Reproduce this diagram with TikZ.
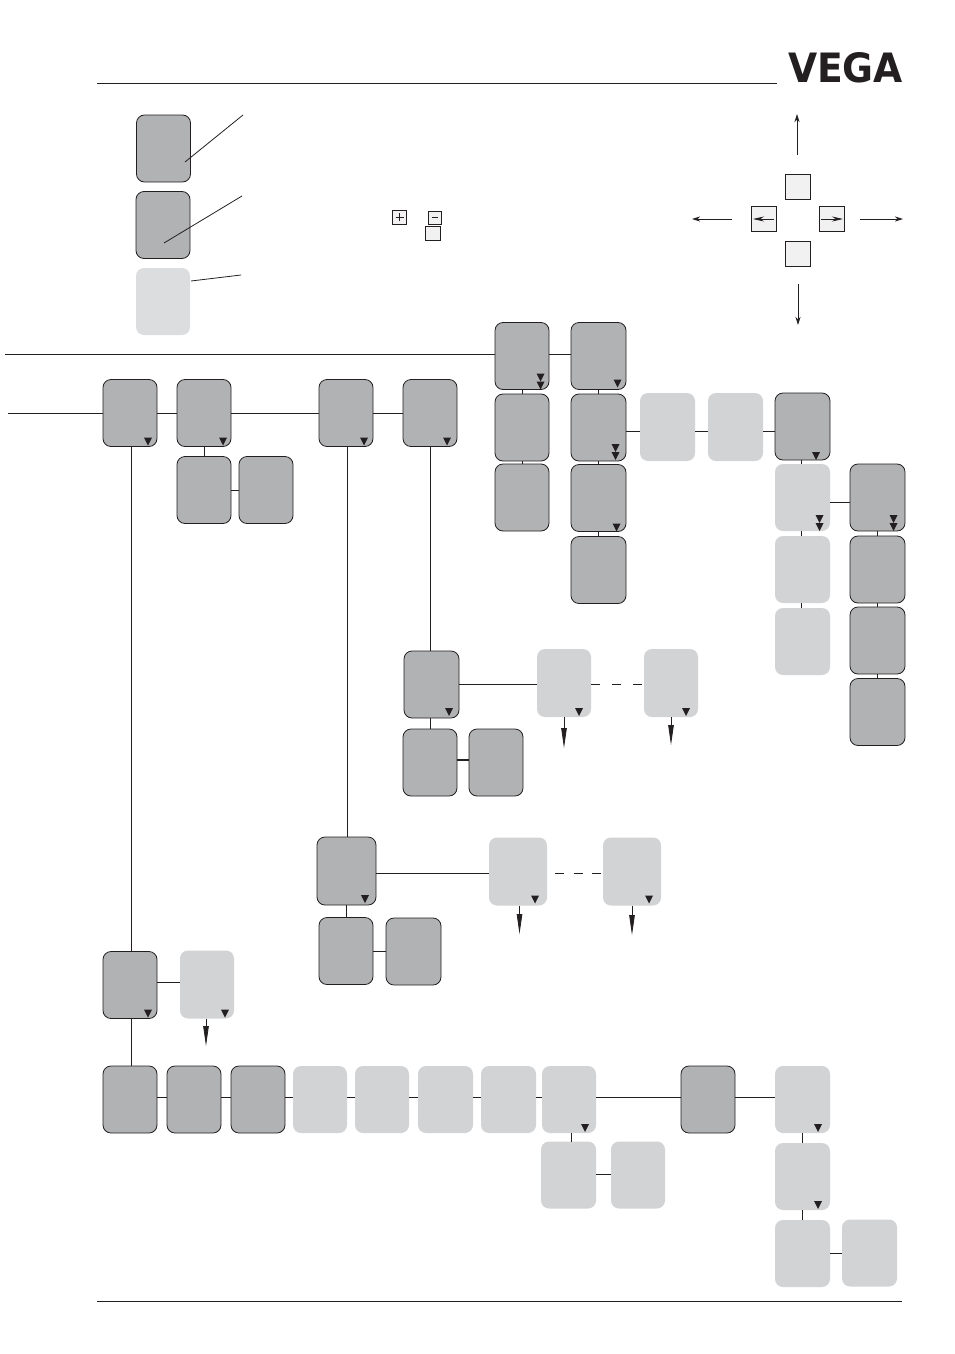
\documentclass[tikz,border=0pt]{standalone}
\usepackage{fontspec}
\usetikzlibrary{arrows.meta,positioning}
\newfontfamily\logofont{DejaVu Sans}[BoldFont={DejaVu Sans Bold}]
\definecolor{inkcol}{HTML}{231F20}
\definecolor{darkcol}{HTML}{B1B2B4}
\definecolor{lightcol}{HTML}{D1D3D5}
\definecolor{palecol}{HTML}{DCDDDF}
\definecolor{keycol}{HTML}{F1F1F2}
\tikzset{
	panel/.style={inner sep=0pt,outer sep=0pt,minimum width=54pt,minimum height=67pt,rounded corners=8pt},
	darkbox/.style={panel,draw=inkcol,line width=0.8pt,fill=darkcol},
	lightbox/.style={panel,fill=lightcol},
	keybox/.style={inner sep=0pt,outer sep=0pt,draw=inkcol,line width=0.8pt,fill=keycol},
	wire/.style={draw=inkcol,line width=0.8pt},
	navarrow/.style={wire,-{Stealth[length=8pt,width=5pt,inset=2.5pt]}},
	droparrow/.style={wire,-{Stealth[length=20pt,width=5.5pt,inset=0pt]}}
}
% one small triangle: box, shift of its middle from the corner, height of its tip
\newcommand{\tipmark}[3]{\fill[inkcol] ([xshift=#2pt-4pt,yshift=#3pt+8pt]#1.south east) -- ([xshift=#2pt+4pt,yshift=#3pt+8pt]#1.south east) -- ([xshift=#2pt,yshift=#3pt]#1.south east) -- cycle;}
\newcommand{\tiptwin}[3]{\tipmark{#1}{#2}{#3}\tipmark{#1}{#2}{#3+8}}
\begin{document}
\begin{tikzpicture}[x=1pt,y=-1pt]
	\useasboundingbox (0,0) rectangle (954,1354);
	% page head and foot
	\coordinate (headL) at (97,83);
	\coordinate (headR) at (777,83);
	\coordinate (footL) at (97,1301);
	\coordinate (footR) at (902,1301);
	\draw[wire] (headL) -- (headR);
	\draw[wire] (footL) -- (footR);
	\node[inner sep=0pt,text=inkcol] (logo) at (845.5,68) {\resizebox{115pt}{30pt}{\logofont\bfseries VEGA}};
	% legend
	\node[darkbox] (legA) at (163.5,148.5) {};
	\node[darkbox] (legB) at (163,225) {};
	\node[panel,fill=palecol] (legC) at (163,301.5) {};
	\coordinate (legAin) at (185,162);
	\coordinate (legAout) at (243,115);
	\coordinate (legBin) at (164,243);
	\coordinate (legBout) at (242,196);
	\coordinate (legCout) at (241,275);
	\coordinate (legCin) at (191,281);
	\draw[wire] (legAin) -- (legAout);
	\draw[wire] (legBin) -- (legBout);
	\draw[wire] (legCin) -- (legCout);
	\node[keybox,minimum width=14pt,minimum height=14pt] (keyPlus) at (399.5,217) {};
	\draw[wire] ([xshift=-4pt]keyPlus.center) -- ([xshift=4pt]keyPlus.center);
	\draw[wire] ([yshift=-4pt]keyPlus.center) -- ([yshift=4pt]keyPlus.center);
	\node[keybox,minimum width=13pt,minimum height=13pt] (keyMinus) at (435,217.5) {};
	\draw[wire] ([xshift=-3pt]keyMinus.center) -- ([xshift=3pt]keyMinus.center);
	\node[keybox,minimum width=15pt,minimum height=14pt] (keyBlank) at (433,233.5) {};
	% arrow keys
	\node[keybox,minimum width=25pt,minimum height=25pt] (navU) at (797.5,187) {};
	\node[keybox,minimum width=25pt,minimum height=25pt] (navL) at (764,219) {};
	\node[keybox,minimum width=25pt,minimum height=25pt] (navR) at (832,219) {};
	\node[keybox,minimum width=25pt,minimum height=25pt] (navD) at (798,253.5) {};
	\coordinate (upA) at (797,155);
	\coordinate (upB) at (797,114);
	\coordinate (leftA) at (732,219);
	\coordinate (leftB) at (692,219);
	\coordinate (rightA) at (860,219);
	\coordinate (rightB) at (903,219);
	\coordinate (downA) at (798,284);
	\coordinate (downB) at (798,325);
	\draw[navarrow] (upA) -- (upB);
	\draw[navarrow] (leftA) -- (leftB);
	\draw[navarrow] (rightA) -- (rightB);
	\draw[navarrow] (downA) -- (downB);
	\draw[wire,-{Stealth[length=11pt,width=5pt]}] ([xshift=10pt]navL.center) -- ([xshift=-11pt]navL.center);
	\draw[wire,-{Stealth[length=11pt,width=5pt]}] ([xshift=-11pt]navR.center) -- ([xshift=11pt]navR.center);
	% top block
	\node[darkbox] (c1) at (522,356) {};
	\node[darkbox] (c2) at (522,427.5) {};
	\node[darkbox] (c3) at (522,497.5) {};
	\node[darkbox,minimum width=55pt] (d1) at (598.5,356) {};
	\node[darkbox,minimum width=55pt] (d2) at (598.5,427.5) {};
	\node[darkbox,minimum width=55pt] (d3) at (598.5,498) {};
	\node[darkbox,minimum width=55pt] (d4) at (598.5,570) {};
	\node[lightbox,minimum width=55pt,minimum height=68pt] (e1) at (667.5,427) {};
	\node[lightbox,minimum width=55pt,minimum height=68pt] (e2) at (735.5,427) {};
	\node[darkbox,minimum width=55pt] (e3) at (802.5,426.5) {};
	\node[lightbox,minimum width=55pt] (f1) at (802.5,497.5) {};
	\node[lightbox,minimum width=55pt] (f2) at (802.5,569.5) {};
	\node[lightbox,minimum width=55pt] (f3) at (802.5,641.5) {};
	\node[darkbox,minimum width=55pt] (g1) at (877.5,497.5) {};
	\node[darkbox,minimum width=55pt] (g2) at (877.5,569.5) {};
	\node[darkbox,minimum width=55pt] (g3) at (877.5,640.5) {};
	\node[darkbox,minimum width=55pt] (g4) at (877.5,712) {};
	% main row
	\node[darkbox] (a1) at (130,413) {};
	\node[darkbox] (a2) at (204,413) {};
	\node[darkbox] (a3) at (204,490) {};
	\node[darkbox] (a4) at (266,490) {};
	\node[darkbox] (b1) at (346,413) {};
	\node[darkbox] (b2) at (430,413) {};
	% middle branches
	\node[darkbox,minimum width=55pt] (h1) at (431.5,684.5) {};
	\node[darkbox] (h2) at (430,762.5) {};
	\node[darkbox] (h3) at (496,762.5) {};
	\node[lightbox,minimum height=68pt] (i1) at (564,683) {};
	\node[lightbox,minimum height=68pt] (i2) at (671,683) {};
	\node[darkbox,minimum width=59pt,minimum height=68pt] (j1) at (346.5,871) {};
	\node[darkbox] (j2) at (346,951) {};
	\node[darkbox,minimum width=55pt] (j3) at (413.5,951.5) {};
	\node[lightbox,minimum width=58pt,minimum height=68pt] (k1) at (518,871.5) {};
	\node[lightbox,minimum width=58pt,minimum height=68pt] (k2) at (632,871.5) {};
	% bottom block
	\node[darkbox] (l1) at (130,985) {};
	\node[lightbox,minimum height=68pt] (l2) at (207,984.5) {};
	\node[darkbox] (m1) at (130,1099.5) {};
	\node[darkbox] (m2) at (194,1099.5) {};
	\node[darkbox] (m3) at (258,1099.5) {};
	\node[lightbox] (m4) at (320,1099.5) {};
	\node[lightbox] (m5) at (382,1099.5) {};
	\node[lightbox,minimum width=55pt] (m6) at (445.5,1099.5) {};
	\node[lightbox,minimum width=55pt] (m7) at (508.5,1099.5) {};
	\node[lightbox] (m8) at (569,1099.5) {};
	\node[darkbox] (n1) at (708,1099.5) {};
	\node[lightbox,minimum width=55pt] (o1) at (802.5,1099.5) {};
	\node[lightbox,minimum width=55pt] (o2) at (802.5,1176.5) {};
	\node[lightbox,minimum width=55pt] (o3) at (802.5,1253.5) {};
	\node[lightbox,minimum width=55pt] (o4) at (869.5,1253) {};
	\node[lightbox,minimum width=55pt] (p1) at (568.5,1175) {};
	\node[lightbox] (p2) at (638,1175) {};
	% incoming lines
	\coordinate (inTop) at (5,354);
	\coordinate (inMain) at (8,413);
	\draw[wire] (inTop) -- (inTop -| c1.west);
	\draw[wire] (inMain) -- (a1.west);
	% links
	\draw[wire] (a1.east) -- (a2.west);
	\draw[wire] (a2.east) -- (b1.west);
	\draw[wire] (b1.east) -- (b2.west);
	\draw[wire] (a2.south) -- (a3.north);
	\draw[wire] (a3.east) -- (a4.west);
	\draw[wire] ([yshift=2pt]c1.east) -- ([yshift=2pt]c1.east -| d1.west);
	\draw[wire] (c1.south) -- (c2.north);
	\draw[wire] (c2.south) -- (c3.north);
	\draw[wire] (d1.south) -- (d2.north);
	\draw[wire] (d2.south) -- (d3.north);
	\draw[wire] (d3.south) -- (d4.north);
	\draw[wire] ([yshift=-4pt]d2.east) -- ([yshift=-4pt]d2.east -| e1.west);
	\draw[wire] ([yshift=-4pt]e1.east) -- ([yshift=-4pt]e1.east -| e2.west);
	\draw[wire] ([yshift=-4pt]e2.east) -- ([yshift=-4pt]e2.east -| e3.west);
	\draw[wire] ([xshift=-1.5pt]e3.south) -- ([xshift=-1.5pt]f1.north);
	\draw[wire] ([xshift=-1.5pt]f1.south) -- ([xshift=-1.5pt]f2.north);
	\draw[wire] ([xshift=-1.5pt]f2.south) -- ([xshift=-1.5pt]f3.north);
	\draw[wire] ([yshift=-4.5pt]f1.east) -- ([yshift=-4.5pt]f1.east -| g1.west);
	\draw[wire] (g1.south) -- (g2.north);
	\draw[wire] (g2.south) -- (g3.north);
	\draw[wire] (g3.south) -- (g4.north);
	\draw[wire] (b2.south) -- (b2.south |- h1.north);
	\draw[wire] (h2.north) -- (h2.north |- h1.south);
	\draw[wire] (h1.east) -- (h1.east -| i1.west);
	\draw[wire,line width=1.6pt] ([yshift=2.5pt]h2.east) -- ([yshift=2.5pt]h3.west);
	\draw[wire,dash pattern=on 9pt off 12pt] ([yshift=-1pt]i1.east) -- ([yshift=-1pt]i2.west);
	\draw[wire] ([xshift=1.5pt]b1.south) -- ([xshift=1.5pt]b1.south |- j1.north);
	\draw[wire] (j1.south) -- (j1.south |- j2.north);
	\draw[wire] (j2.east) -- (j2.east -| j3.west);
	\draw[wire] ([yshift=-2pt]j1.east) -- ([yshift=-2pt]j1.east -| k1.west);
	\draw[wire,dash pattern=on 9pt off 9.5pt,dash phase=10.5pt] ([yshift=-2pt]k1.east) -- ([yshift=-2pt]k2.west);
	\draw[wire] ([xshift=1.5pt]a1.south) -- ([xshift=1.5pt]l1.north);
	\draw[wire] ([xshift=1pt]l1.south) -- ([xshift=1pt]m1.north);
	\draw[wire] ([yshift=3pt]l1.east) -- ([yshift=3pt]l1.east -| l2.west);
	\draw[wire] ([yshift=2.5pt]m1.east) -- ([yshift=2.5pt]m2.west);
	\draw[wire] ([yshift=2.5pt]m2.east) -- ([yshift=2.5pt]m3.west);
	\draw[wire] ([yshift=2.5pt]m3.east) -- ([yshift=2.5pt]m4.west);
	\draw[wire] ([yshift=2.5pt]m4.east) -- ([yshift=2.5pt]m5.west);
	\draw[wire] ([yshift=2.5pt]m5.east) -- ([yshift=2.5pt]m6.west);
	\draw[wire] ([yshift=2.5pt]m6.east) -- ([yshift=2.5pt]m7.west);
	\draw[wire] ([yshift=2.5pt]m7.east) -- ([yshift=2.5pt]m8.west);
	\draw[wire] ([yshift=2.5pt]m8.east) -- ([yshift=2.5pt]n1.west);
	\draw[wire] ([yshift=2.5pt]n1.east) -- ([yshift=2.5pt]o1.west);
	\draw[wire] ([xshift=2pt]m8.south) -- ([xshift=2pt]m8.south |- p1.north);
	\draw[wire] ([yshift=1pt]p1.east) -- ([yshift=1pt]p2.west);
	\draw[wire] (o1.south) -- (o2.north);
	\draw[wire] (o2.south) -- (o3.north);
	\draw[wire] (o3.east) -- (o3.east -| o4.west);
	% arrows out of the light boxes
	\coordinate (i1end) at (564,748);
	\coordinate (i2end) at (671,745);
	\coordinate (k1end) at (519.5,934);
	\coordinate (k2end) at (632,935);
	\coordinate (l2end) at (206,1046);
	\draw[droparrow] (i1end |- i1.south) -- (i1end);
	\draw[droparrow] (i2end |- i2.south) -- (i2end);
	\draw[droparrow] (k1end |- k1.south) -- (k1end);
	\draw[droparrow] (k2end |- k2.south) -- (k2end);
	\draw[droparrow] (l2end |- l2.south) -- (l2end);
	% triangles in the boxes
	\tipmark{a1}{-9}{1}
	\tipmark{a2}{-8}{1}
	\tipmark{b1}{-9}{1}
	\tipmark{b2}{-10}{1}
	\tiptwin{c1}{-8.5}{0}
	\tipmark{d1}{-8.5}{2}
	\tiptwin{d2}{-10.5}{1}
	\tipmark{d3}{-9.5}{0}
	\tipmark{e3}{-14}{0}
	\tiptwin{f1}{-10.5}{0}
	\tiptwin{g1}{-11.5}{0}
	\tipmark{h1}{-10}{2}
	\tipmark{i1}{-12}{1}
	\tipmark{i2}{-12}{1}
	\tipmark{j1}{-11}{2}
	\tipmark{k1}{-12}{2}
	\tipmark{k2}{-12}{2}
	\tipmark{l1}{-9}{1}
	\tipmark{l2}{-9}{1}
	\tipmark{m8}{-11}{1}
	\tipmark{o1}{-12}{1}
	\tipmark{o2}{-12}{1}
\end{tikzpicture}
\end{document}
